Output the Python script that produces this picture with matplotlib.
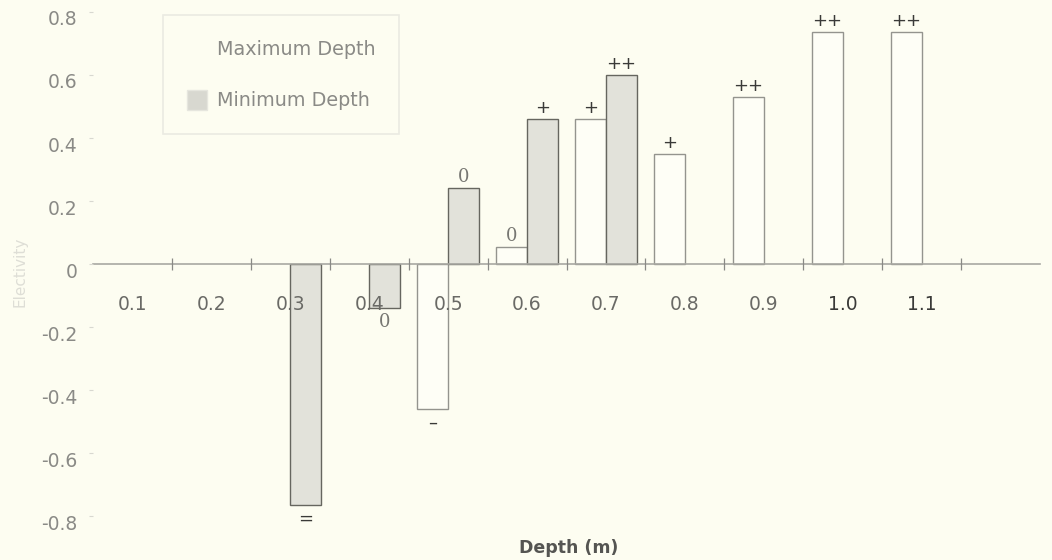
import numpy as np
import matplotlib
matplotlib.use("Agg")
import matplotlib.pyplot as plt
import matplotlib.transforms as mtransforms
from matplotlib.patches import Patch

# ---- data ----
depths = ['0.1', '0.2', '0.3', '0.4', '0.5', '0.6', '0.7', '0.8', '0.9', '1.0', '1.1']
max_depth = [np.nan, np.nan, np.nan, np.nan, -0.46, 0.055, 0.46, 0.35, 0.53, 0.735, 0.735]
min_depth = [np.nan, np.nan, -0.765, -0.14, 0.24, 0.46, 0.60, np.nan, np.nan, np.nan, np.nan]
max_signs = ['', '', '', '', '\u2013', '0', '+', '+', '++', '++', '++']
min_signs = ['', '', '=', '0', '0', '+', '++', '', '', '', '']
ytick_values = [0.8, 0.6, 0.4, 0.2, 0.0, -0.2, -0.4, -0.6, -0.8]
ytick_labels = ['0.8', '0.6', '0.4', '0.2', '0', '-0.2', '-0.4', '-0.6', '-0.8']

BG = '#fdfdf1'
fig = plt.figure(figsize=(10.52, 5.6), dpi=100, facecolor=BG)
ax = fig.add_axes([93 / 1052, 25 / 560, 947 / 1052, 535 / 560])
ax.set_facecolor(BG)
ax.set_axisbelow(False)

x = np.arange(len(depths))
w = 0.39
mx = np.array(max_depth, dtype=float)
mn = np.array(min_depth, dtype=float)
m1 = ~np.isnan(mx)
m2 = ~np.isnan(mn)

ax.bar(x[m1] - w / 2, mx[m1], width=w, facecolor='#fefef6', edgecolor='#94948e',
       linewidth=1.0, zorder=1)
ax.bar(x[m2] + w / 2, mn[m2], width=w, facecolor='#e2e2da', edgecolor='#66665f',
       linewidth=1.0, zorder=1)

def put_signs(xs, vals, signs):
    for xi, v, s in zip(xs, vals, signs):
        if not s or np.isnan(v):
            continue
        off = 8 if v > 0 else -10
        fam = 'DejaVu Serif' if s == '0' else 'DejaVu Sans'
        col = '#777772' if s == '0' else '#3a3a38'
        ax.annotate(s, (xi, v), xytext=(0, off), textcoords='offset points',
                    ha='center', va='center', fontsize=13, color=col,
                    family=fam, zorder=4)

put_signs(x - w / 2, mx, max_signs)
put_signs(x + w / 2, mn, min_signs)

ax.set_xlim(-0.5, 11.5)
ax.set_ylim(-0.86, 0.838)

# zero line as the x axis
for side in ['top', 'right', 'left']:
    ax.spines[side].set_visible(False)
ax.spines['bottom'].set_position(('data', 0))
ax.spines['bottom'].set_color('#a8a8a2')
ax.spines['bottom'].set_linewidth(1.2)

ax.set_xticks(x)
ax.set_xticklabels(depths)
ax.set_xticks(np.arange(len(depths)) + 0.5, minor=True)
ax.tick_params(axis='x', which='major', length=0, pad=22, labelsize=13.5,
               labelcolor='#6a6a66')
ax.tick_params(axis='x', which='minor', direction='inout', length=9,
               width=0.9, color='#8a8a86')
for lab in ax.get_xticklabels():
    if lab.get_text() in ('1.0', '1.1'):
        lab.set_color('#3a3a38')

ax.set_yticks(ytick_values)
ax.set_yticklabels(ytick_labels)
ax.tick_params(axis='y', which='major', length=3, width=0.8, color='#d8d8d0',
               pad=8, labelsize=13.5, labelcolor='#8a8a86')
offset = mtransforms.ScaledTranslation(0, -0.06, fig.dpi_scale_trans)
for lab in ax.get_yticklabels():
    lab.set_transform(lab.get_transform() + offset)

fig.text(20 / 1052, 1 - 272 / 560, 'Electivity', rotation=90, ha='center',
         va='center', fontsize=11, color='#deded6')
fig.text(569 / 1052, 1 - 548 / 560, 'Depth (m)', ha='center', va='center',
         fontsize=12.5, fontweight='bold', color='#555552')

handles = [Patch(facecolor=BG, edgecolor=BG, label='Maximum Depth'),
           Patch(facecolor='#d8d8d0', edgecolor='#e6e6de', label='Minimum Depth')]
leg = ax.legend(handles=handles, loc='upper left',
                bbox_to_anchor=(163 / 1052, 1 - 15 / 560),
                bbox_transform=fig.transFigure, fontsize=13.8,
                handlelength=1.05, handleheight=1.2, handletextpad=0.5,
                labelspacing=1.6, borderpad=1.25, borderaxespad=0,
                frameon=True, fancybox=False, labelcolor='#8a8a86')
leg.get_frame().set_edgecolor('#e6e6de')
leg.get_frame().set_facecolor(BG)
leg.get_frame().set_linewidth(1.2)

fig.savefig('out.png', dpi=100, facecolor=BG)
